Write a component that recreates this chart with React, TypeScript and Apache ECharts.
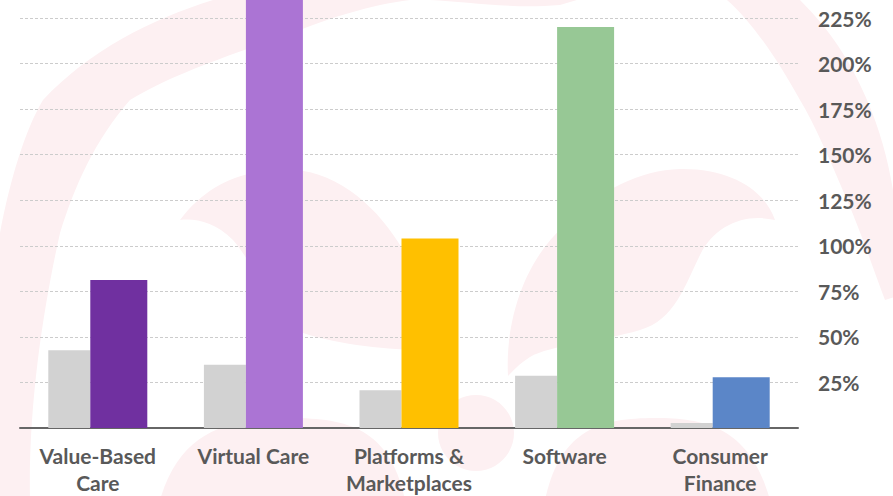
import React, { useEffect, useRef } from 'react';
import * as echarts from 'echarts';

const categories = ['Value-Based\nCare', 'Virtual Care', 'Platforms &\nMarketplaces', 'Software', 'Consumer\nFinance'];
const baselineValues = [42.7, 34.7, 20.7, 28.7, 2.7];
const growthValues = [81.2, 290, 104, 220, 27.8];
const growthColors = ['#7030a0', '#ab74d4', '#ffc000', '#97c895', '#5b86c8'];
const yMin = 0;
const yMax = 225;
const yInterval = 25;

// faint background watermark (decoration only)
const RING_PATH =
  'M -45 500 C -20 400 -10 300 0 233 C 10 180 25 130 43 100 C 90 50 150 20 213 0 ' +
  'C 300 -40 450 -70 560 -70 C 680 -70 760 -30 800 0 C 830 30 850 60 867 100 ' +
  'C 880 130 888 160 893 190 C 905 230 925 265 935 285 L 885 300 ' +
  'C 870 260 860 230 847 200 C 830 160 815 125 800 100 C 775 55 750 20 727 0 ' +
  'C 680 -30 610 -10 560 5 C 500 10 450 -2 410 0 C 370 5 330 18 300 30 ' +
  'C 230 55 170 75 130 100 C 95 140 75 185 60 233 C 45 300 28 400 30 500 Z';
const LEFT_WING_PATH =
  'M 180 220 C 210 180 250 168 293 170 C 340 172 380 210 403 250 C 425 290 440 330 425 350 ' +
  'C 390 350 340 345 303 333 C 270 310 255 265 233 240 C 215 222 195 218 180 220 Z';
const RIGHT_WING_PATH =
  'M 508 376 C 505 320 525 260 565 225 C 600 190 640 170 680 169 C 730 168 765 190 775 220 ' +
  'C 745 213 715 225 700 255 C 685 285 675 320 640 330 C 600 342 550 345 530 357 C 520 363 512 372 508 376 Z';
const LEFT_ARCH_PATH = 'M 160 500 C 180 430 230 418 290 418 C 350 418 390 430 405 500 Z';
const RIGHT_ARCH_PATH = 'M 545 500 C 560 430 600 418 655 418 C 710 418 750 430 770 500 Z';

let registered = false;

export default function App() {
  const ref = useRef<HTMLDivElement>(null);

  useEffect(() => {
    if (!ref.current) return;
    if (!registered) {
      echarts.graphic.registerShape('wmRing', echarts.graphic.extendPath(RING_PATH, {}));
      echarts.graphic.registerShape('wmLeftWing', echarts.graphic.extendPath(LEFT_WING_PATH, {}));
      echarts.graphic.registerShape('wmRightWing', echarts.graphic.extendPath(RIGHT_WING_PATH, {}));
      echarts.graphic.registerShape('wmLeftArch', echarts.graphic.extendPath(LEFT_ARCH_PATH, {}));
      echarts.graphic.registerShape('wmRightArch', echarts.graphic.extendPath(RIGHT_ARCH_PATH, {}));
      registered = true;
    }
    const chart = echarts.init(ref.current, null, { renderer: 'svg' });
    const labelColor = '#595959';
    const wm = '#fdf0f2';
    const wmShape = (type: string) => ({ type, x: 0, y: 0, silent: true, z: -10, style: { fill: wm } });
    chart.setOption({
      animation: false,
      backgroundColor: '#ffffff',
      graphic: [
        wmShape('wmRing'),
        wmShape('wmLeftWing'),
        wmShape('wmRightWing'),
        wmShape('wmLeftArch'),
        wmShape('wmRightArch'),
        {
          type: 'circle',
          silent: true,
          z: -10,
          shape: { cx: 476, cy: 433, r: 38 },
          style: { fill: wm },
        },
      ],
      grid: { left: 20, right: 95, top: 18, bottom: 65, containLabel: false },
      xAxis: {
        type: 'category',
        data: categories,
        axisLine: { show: true, lineStyle: { color: '#666666', width: 2 } },
        axisTick: { show: false },
        axisLabel: {
          interval: 0,
          margin: 14,
          color: labelColor,
          fontFamily: 'Lato',
          fontWeight: 'bold',
          fontSize: 21,
          lineHeight: 27,
        },
      },
      yAxis: {
        type: 'value',
        position: 'right',
        min: yMin,
        max: yMax,
        interval: yInterval,
        axisLine: { show: false },
        axisTick: { show: false },
        splitLine: { show: true, lineStyle: { color: '#cccccc', width: 1, type: [3, 2] } },
        axisLabel: {
          showMinLabel: false,
          margin: 20,
          color: labelColor,
          fontFamily: 'Lato',
          fontWeight: 'bold',
          fontSize: 21,
          formatter: '{value}%',
        },
      },
      series: [
        {
          name: 'Baseline',
          type: 'bar',
          barWidth: 42,
          barGap: '0%',
          data: baselineValues,
          itemStyle: { color: '#d2d2d2' },
        },
        {
          name: 'Growth',
          type: 'bar',
          barWidth: 57,
          barGap: '0%',
          clip: false,
          data: growthValues.map((v, i) => ({ value: v, itemStyle: { color: growthColors[i] } })),
        },
      ],
    });
    return () => chart.dispose();
  }, []);

  return (
    <div
      ref={ref}
      style={{ position: 'absolute', left: 0, top: 0, width: 893, height: 496 }}
    />
  );
}
